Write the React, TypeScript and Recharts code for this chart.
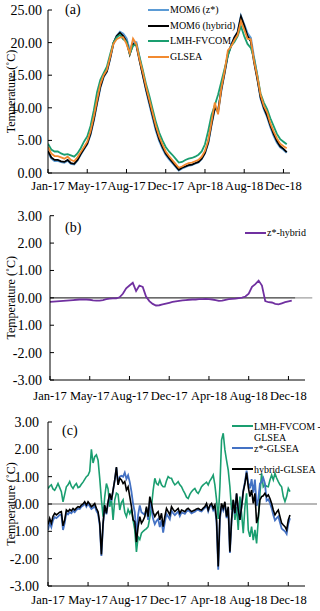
import React from 'react';
import { LineChart, Line, XAxis, YAxis, ReferenceLine, Legend, Label } from 'recharts';

const FONT = "'Times New Roman', 'Liberation Serif', serif";

const tickDays = [0, 120, 240, 360, 480, 600, 720];
const tickLabels = ['Jan-17', 'May-17', 'Aug-17', 'Dec-17', 'Apr-18', 'Aug-18', 'Dec-18'];
const ticksA = [0, 5, 10, 15, 20, 25];
const ticksBC = [-3, -2, -1, 0, 1, 2, 3];

// Panel (a): daily-ish temperature, one value every 10 days from 1 Jan 2017
const STEP_A = 10;
const zStarA = [3.25,2.26,1.87,1.88,1.69,1.6,1.91,1.42,1.33,1.94,
  2.84,3.64,4.43,5.91,8.1,10.7,13.12,14.75,15.57,17.58,
  19.88,21.02,21.65,21.35,20.65,18.75,20.05,20.05,17.6,15.05,
  12.68,10.58,8.52,6.53,4.96,3.79,2.82,2.15,1.57,0.99,
  0.41,0.72,0.93,1.14,1.24,1.45,1.65,2.16,3.05,4.64,
  7.42,9.89,9.4,12.73,15.35,18.16,19.57,20.79,21.61,24.05,
  22.75,21.4,20.7,17.63,14.85,11.48,9.84,8.63,7.08,5.76,
  4.7,3.94,3.57,3.1];
const hybridA = [3.4,2.4,2.0,2.0,1.8,1.7,2.0,1.5,1.4,2.0,
  2.9,3.7,4.5,6.0,8.2,10.8,13.2,14.8,15.6,17.6,
  19.9,21.0,21.5,21.0,20.2,18.2,19.8,19.6,17.2,15.0,
  12.8,10.8,8.8,6.8,5.2,4.0,3.0,2.3,1.7,1.1,
  0.5,0.8,1.0,1.2,1.3,1.5,1.7,2.2,3.1,4.7,
  7.5,10.0,9.5,12.8,15.4,18.2,19.6,20.8,21.6,24.0,
  22.6,21.0,20.2,17.0,14.4,11.6,10.0,8.8,7.3,6.0,
  4.9,4.1,3.7,3.2];
const fvcomA = [4.5,3.6,3.3,3.3,3.0,2.8,2.9,2.7,2.5,3.0,
  3.8,4.8,5.6,7.2,9.6,12.4,14.3,15.3,16.3,18.2,
  20.0,20.8,21.2,20.5,20.2,18.3,19.5,19.8,17.8,15.8,
  13.6,11.8,9.8,7.8,6.2,5.0,4.0,3.3,2.8,2.2,
  1.6,1.7,2.0,2.2,2.3,2.5,2.8,3.3,4.4,6.5,
  8.9,10.4,12.0,14.0,16.0,18.0,19.5,20.1,21.0,22.5,
  21.0,19.8,19.2,17.6,15.0,12.2,10.8,9.8,8.4,7.2,
  6.0,5.2,4.8,4.4];
const glseaA = [4.0,3.0,2.6,2.6,2.4,2.2,2.5,2.0,1.8,2.4,
  3.2,4.0,4.8,6.4,8.6,11.2,13.6,15.0,15.8,17.8,
  19.8,20.5,20.8,20.8,19.8,18.4,20.6,19.8,17.4,15.4,
  13.2,11.2,9.2,7.2,5.6,4.4,3.3,2.6,2.0,1.4,
  0.8,1.0,1.3,1.5,1.6,1.8,2.0,2.5,3.4,5.0,
  7.8,10.8,9.0,13.0,15.6,18.8,19.4,20.4,21.2,23.3,
  22.0,20.6,20.5,17.2,14.8,12.0,10.3,9.3,7.6,6.4,
  5.3,4.5,4.1,3.8];

// Panel (b): z* minus hybrid, every 10 days
const STEP_B = 10;
const zMinusHybrid = [-0.15,-0.14,-0.13,-0.12,-0.11,-0.10,-0.09,-0.08,-0.07,-0.06,
  -0.06,-0.06,-0.07,-0.09,-0.10,-0.10,-0.08,-0.05,-0.03,-0.02,
  -0.02,0.02,0.15,0.35,0.45,0.55,0.25,0.45,0.40,0.05,
  -0.12,-0.22,-0.28,-0.27,-0.24,-0.21,-0.18,-0.15,-0.13,-0.11,
  -0.09,-0.08,-0.07,-0.06,-0.06,-0.05,-0.05,-0.04,-0.05,-0.06,
  -0.08,-0.11,-0.10,-0.07,-0.05,-0.04,-0.03,-0.01,0.01,0.05,
  0.15,0.40,0.50,0.63,0.45,-0.12,-0.16,-0.17,-0.22,-0.24,
  -0.20,-0.16,-0.13,-0.10];

// Panel (c): differences to GLSEA, every 5 days
const STEP_C = 5;
const fvcomMinusGlsea = [0.57,0.65,0.70,0.55,0.50,0.62,0.75,0.60,0.45,0.08,
  0.35,0.63,0.70,0.82,0.65,0.57,0.68,0.75,0.60,0.63,
  0.72,0.80,0.90,1.00,1.05,1.20,2.00,1.50,1.73,1.80,
  1.60,0.94,0.15,-0.46,0.27,0.75,0.55,-0.10,0.20,-0.58,
  0.15,0.40,0.35,-0.22,0.05,0.15,-0.30,-0.46,-0.20,-0.35,
  -0.20,-0.60,-0.95,-1.75,-1.20,-1.30,-1.07,-1.00,-0.95,-0.90,
  -0.83,-0.50,-0.10,0.50,0.94,0.75,0.70,0.88,0.70,0.63,
  0.63,0.85,1.00,0.95,0.94,0.80,0.70,0.75,0.82,0.70,
  0.63,0.50,0.39,0.25,0.20,0.35,0.45,0.52,0.57,0.45,
  0.39,0.50,0.63,0.70,0.75,0.80,0.70,0.85,0.94,1.06,
  0.70,0.15,-0.55,0.63,2.34,2.59,1.98,1.60,1.24,0.63,
  -0.22,0.15,-0.58,-0.10,-0.95,0.27,-0.34,-1.07,-0.10,0.39,
  -0.95,-1.20,-0.83,-1.32,-0.95,-1.44,-0.58,0.39,1.12,0.63,
  0.70,0.65,0.63,0.88,1.06,0.88,1.12,0.95,0.82,0.70,
  0.63,0.27,0.09,0.27,0.57,0.45];
const zMinusGlsea = [-0.95,-0.68,-0.85,-0.60,-0.48,-0.52,-0.46,-0.40,-0.38,-0.95,
  -0.70,-0.32,-0.38,-0.30,-0.34,-0.25,-0.30,-0.22,-0.17,-0.18,
  -0.10,-0.06,0.02,-0.10,0.02,-0.08,-0.18,-0.14,-0.07,-0.25,
  -0.36,-0.78,-1.90,-0.76,-0.08,-0.38,0.05,0.36,0.12,0.49,
  0.86,1.33,0.72,1.00,1.03,1.00,1.15,0.92,1.05,0.80,
  0.45,0.00,-0.30,-1.20,-0.40,-0.05,-0.30,-0.35,-0.40,-0.15,
  -0.58,0.10,-0.20,-0.55,-0.74,-0.62,-0.55,-0.84,-0.58,-1.05,
  -0.67,-0.36,-0.46,-0.56,-0.25,-0.34,-0.41,-0.34,-0.27,-0.44,
  -0.31,-0.33,-0.36,-0.27,-0.23,-0.28,-0.34,-0.31,-0.28,-0.23,
  -0.21,-0.25,-0.27,-0.20,-0.14,-0.03,-0.27,-0.09,-0.04,-0.23,
  -0.12,-0.68,-2.40,-0.56,-0.08,-0.24,0.01,-0.52,-0.15,-1.79,
  -0.62,0.12,-0.37,0.37,-0.23,-0.58,-0.09,0.48,0.80,1.22,
  0.78,0.57,0.91,0.42,0.89,-0.07,0.17,0.75,0.80,0.95,
  0.75,0.12,0.17,0.04,-0.15,-0.40,-0.60,-0.52,-0.46,-0.68,
  -0.90,-0.95,-1.00,-1.10,-0.72,-0.52];
const hybridMinusGlsea = [-0.75,-0.52,-0.70,-0.45,-0.34,-0.40,-0.35,-0.30,-0.28,-0.80,
  -0.58,-0.22,-0.28,-0.20,-0.25,-0.16,-0.22,-0.15,-0.10,-0.12,
  -0.04,0.00,0.08,-0.04,0.08,0.00,-0.10,-0.05,0.02,-0.16,
  -0.28,-0.70,-1.85,-0.70,-0.04,-0.34,0.08,0.39,0.15,0.51,
  0.88,1.35,0.70,0.94,0.88,0.75,0.82,0.51,0.63,0.27,
  -0.10,-0.58,-0.65,-1.40,-0.83,-0.46,-0.70,-0.60,-0.46,-0.10,
  -0.46,0.27,0.02,-0.30,-0.46,-0.35,-0.28,-0.58,-0.34,-0.83,
  -0.46,-0.16,-0.28,-0.40,-0.10,-0.20,-0.28,-0.22,-0.16,-0.34,
  -0.22,-0.25,-0.28,-0.20,-0.16,-0.22,-0.28,-0.25,-0.22,-0.18,
  -0.16,-0.20,-0.22,-0.15,-0.10,0.02,-0.22,-0.04,0.02,-0.16,
  -0.04,-0.58,-2.29,-0.46,0.02,-0.16,0.08,-0.46,-0.10,-1.75,
  -0.58,0.15,-0.34,0.39,-0.22,-0.58,-0.10,0.45,0.75,1.15,
  0.63,0.27,0.51,0.02,0.39,-0.70,-0.46,0.15,0.27,0.30,
  0.39,0.27,0.33,0.20,0.02,-0.22,-0.40,-0.30,-0.22,-0.46,
  -0.70,-0.77,-0.83,-0.95,-0.58,-0.40];

const BLUE_A = '#5b9bd5';
const BLUE_C = '#4472c4';
const GREEN = '#1a9e70';
const ORANGE = '#f28a30';
const PURPLE = '#7030a0';

const dataA = zStarA.map((v, i) => ({ d: i * STEP_A, z: v, h: hybridA[i], f: fvcomA[i], g: glseaA[i] }));
const dataB = zMinusHybrid.map((v, i) => ({ d: i * STEP_B, v }));
const dataC = fvcomMinusGlsea.map((v, i) => ({ d: i * STEP_C, f: v, z: zMinusGlsea[i], h: hybridMinusGlsea[i] }));

const fmtX = (v: number) => {
  const i = tickDays.indexOf(v);
  return i >= 0 ? tickLabels[i] : '';
};
const fmtY = (v: number) => v.toFixed(2);

const axisCommon = {
  axisLine: { stroke: '#000', strokeWidth: 1 },
  tickLine: { stroke: '#000', strokeWidth: 1 },
};

type Item = { label: string; color: string; top: number; lines?: string[]; lineTop?: number };

const makeLegend = (items: Item[], width: number) => () => (
  <div style={{ position: 'relative', width, height: 80, fontFamily: FONT, fontSize: 10, color: '#000' }}>
    {items.map((it) => (
      <div key={it.label}>
        <svg
          width={21}
          height={4}
          style={{ position: 'absolute', left: 0, top: (it.lineTop ?? it.top) - 2 }}
        >
          <line x1={0} y1={2} x2={21} y2={2} stroke={it.color} strokeWidth={2} />
        </svg>
        {(it.lines ?? [it.label]).map((ln, k) => (
          <div
            key={k}
            style={{ position: 'absolute', left: 22, top: it.top - 6 + k * 10.5, lineHeight: '12px', whiteSpace: 'nowrap' }}
          >
            {ln}
          </div>
        ))}
      </div>
    ))}
  </div>
);

const legendA = makeLegend([
  { label: 'MOM6 (z*)', color: BLUE_A, top: 10 },
  { label: 'MOM6 (hybrid)', color: '#000', top: 25.5 },
  { label: 'LMH-FVCOM', color: GREEN, top: 41 },
  { label: 'GLSEA', color: ORANGE, top: 57 },
], 90);

const legendB = makeLegend([
  { label: 'z*-hybrid', color: PURPLE, top: 33 },
], 70);

const legendC = makeLegend([
  { label: 'LMH-FVCOM - GLSEA', lines: ['LMH-FVCOM -', 'GLSEA'], color: GREEN, top: 22, lineTop: 21 },
  { label: 'z*-GLSEA', color: BLUE_C, top: 44, lineTop: 43 },
  { label: 'hybrid-GLSEA', color: '#000', top: 65, lineTop: 64 },
], 90);

const tickX = { fill: '#000', fontSize: 12.5, fontFamily: FONT };
const tickY = { fill: '#000', fontSize: 14, fontFamily: FONT };
const yLabelStyle = { textAnchor: 'middle' as const, fontSize: 12, fontFamily: FONT, fill: '#000' };

const panelLabel = (text: string, left: number, top: number) => (
  <div style={{ position: 'absolute', left, top, fontFamily: FONT, fontSize: 14, color: '#000', lineHeight: '16px' }}>
    {text}
  </div>
);

export default function App() {
  return (
    <div style={{ position: 'absolute', left: 0, top: 0, width: 320, height: 611, background: '#fff', overflow: 'hidden' }}>
      <div style={{ position: 'absolute', left: 0, top: 0 }}>
        <LineChart width={320} height={200} data={dataA} margin={{ top: 10, right: 30, bottom: 7, left: 0 }}>
          <XAxis
            type="number"
            dataKey="d"
            domain={[0, 740]}
            ticks={tickDays}
            tickFormatter={fmtX}
            interval={0}
            tickSize={-4}
            tickMargin={12}
            height={20}
            tick={tickX}
            allowDataOverflow
            {...axisCommon}
          />
          <YAxis
            domain={[0, 25]}
            ticks={ticksA}
            tickFormatter={fmtY}
            width={48}
            tickSize={-4}
            tickMargin={10}
            tick={tickY}
            interval={0}
            {...axisCommon}
          >
            <Label value="Temperature (˚C)" angle={-90} position="insideLeft" offset={11} style={yLabelStyle} />
          </YAxis>
          <Legend layout="vertical" align="center" verticalAlign="middle" content={legendA} wrapperStyle={{ top: 0, left: 148, width: 90, height: 70 }} />
          <Line dataKey="z" stroke={BLUE_A} strokeWidth={2.2} dot={false} isAnimationActive={false} />
          <Line dataKey="h" stroke="#000" strokeWidth={1.8} dot={false} isAnimationActive={false} />
          <Line dataKey="f" stroke={GREEN} strokeWidth={1.8} dot={false} isAnimationActive={false} />
          <Line dataKey="g" stroke={ORANGE} strokeWidth={1.8} dot={false} isAnimationActive={false} />
        </LineChart>
        {panelLabel('(a)', 65, 2)}
      </div>

      <div style={{ position: 'absolute', left: 0, top: 200 }}>
        <LineChart width={320} height={205} data={dataB} margin={{ top: 15.7, right: 15, bottom: 5, left: 0 }}>
          <XAxis
            type="number"
            dataKey="d"
            domain={[0, 770]}
            ticks={tickDays}
            tickFormatter={fmtX}
            interval={0}
            tickSize={-4}
            tickMargin={15}
            height={20}
            tick={tickX}
            allowDataOverflow
            {...axisCommon}
          />
          <YAxis
            domain={[-3, 3]}
            ticks={ticksBC}
            tickFormatter={fmtY}
            width={50}
            tickSize={-4}
            tickMargin={12}
            tick={tickY}
            interval={0}
            {...axisCommon}
          >
            <Label value="Temperature (˚C)" angle={-90} position="insideLeft" offset={11} style={yLabelStyle} />
          </YAxis>
          <ReferenceLine segment={[{ x: 0, y: 0 }, { x: 792, y: 0 }]} ifOverflow="visible" stroke="#a0a0a0" strokeWidth={1.2} />
          <ReferenceLine segment={[{ x: 0, y: 0 }, { x: 740, y: 0 }]} ifOverflow="visible" stroke="#444" strokeWidth={1} />
          <Legend layout="vertical" align="center" verticalAlign="middle" content={legendB} wrapperStyle={{ top: 0, left: 245, width: 70, height: 45 }} />
          <Line dataKey="v" stroke={PURPLE} strokeWidth={1.8} dot={false} isAnimationActive={false} />
        </LineChart>
        {panelLabel('(b)', 65, 20)}
      </div>

      <div style={{ position: 'absolute', left: 0, top: 405 }}>
        <LineChart width={320} height={206} data={dataC} margin={{ top: 17, right: 15, bottom: 5, left: 0 }}>
          <XAxis
            type="number"
            dataKey="d"
            domain={[0, 770]}
            ticks={tickDays}
            tickFormatter={fmtX}
            interval={0}
            tickSize={-4}
            tickMargin={13}
            height={20}
            tick={tickX}
            allowDataOverflow
            {...axisCommon}
          />
          <YAxis
            domain={[-3, 3]}
            ticks={ticksBC}
            tickFormatter={fmtY}
            width={48}
            tickSize={-4}
            tickMargin={13}
            tick={tickY}
            interval={0}
            {...axisCommon}
          >
            <Label value="Temperature (˚C)" angle={-90} position="insideLeft" offset={11} style={yLabelStyle} />
          </YAxis>
          <ReferenceLine segment={[{ x: 0, y: 0 }, { x: 806, y: 0 }]} ifOverflow="visible" stroke="#707070" strokeWidth={1.2} />
          <Legend layout="vertical" align="center" verticalAlign="middle" content={legendC} wrapperStyle={{ top: 0, left: 232, width: 90, height: 75 }} />
          <Line dataKey="f" stroke={GREEN} strokeWidth={1.6} dot={false} isAnimationActive={false} />
          <Line dataKey="z" stroke={BLUE_C} strokeWidth={1.8} dot={false} isAnimationActive={false} />
          <Line dataKey="h" stroke="#000" strokeWidth={1.6} dot={false} isAnimationActive={false} />
        </LineChart>
        {panelLabel('(c)', 62, 18)}
      </div>
    </div>
  );
}
